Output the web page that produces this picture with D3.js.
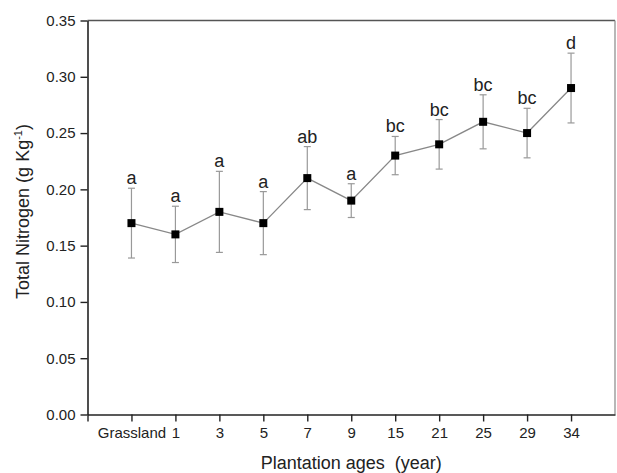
<!DOCTYPE html>
<html lang="en">
<head>
<meta charset="UTF-8">
<title>Total Nitrogen</title>
<script src="https://d3js.org/d3.v7.min.js"></script>
<style>
  body { margin: 0; background: #fff; }
  svg text { font-family: "Liberation Sans", Arial, sans-serif; fill: #222; }
</style>
</head>
<body>
<div id="chart"></div>
<script>
// data
const ages = ["Grassland", "1", "3", "5", "7", "9", "15", "21", "25", "29", "34"];
const nitrogen = [0.17, 0.16, 0.18, 0.17, 0.21, 0.19, 0.23, 0.24, 0.26, 0.25, 0.29];
const stdErr = [0.031, 0.025, 0.036, 0.028, 0.028, 0.015, 0.017, 0.022, 0.024, 0.022, 0.031];
const letters = ["a", "a", "a", "a", "ab", "a", "bc", "bc", "bc", "bc", "d"];
const yTicks = [0, 0.05, 0.10, 0.15, 0.20, 0.25, 0.30, 0.35];

const width = 617, height = 473;
const margin = {left: 87.5, right: 2, top: 20.5, bottom: 58.5};

const svg = d3.select("#chart").append("svg")
  .attr("width", width)
  .attr("height", height);

// categories sit at positions 1..11, axis runs 0..12
const x = d3.scaleLinear()
  .domain([0, ages.length + 1])
  .range([margin.left, width - margin.right]);

const y = d3.scaleLinear()
  .domain([0, 0.35])
  .range([height - margin.bottom, margin.top]);

// frame: top and right lines
svg.append("line")
  .attr("x1", margin.left).attr("x2", width - margin.right)
  .attr("y1", margin.top).attr("y2", margin.top)
  .attr("stroke", "#555").attr("stroke-width", 1.5);
svg.append("line")
  .attr("x1", width - margin.right).attr("x2", width - margin.right)
  .attr("y1", margin.top).attr("y2", height - margin.bottom)
  .attr("stroke", "#888").attr("stroke-width", 1.2);

// x axis
const xAxis = d3.axisBottom(x)
  .tickValues(d3.range(0, ages.length + 1))
  .tickFormat(d => d === 0 ? "" : ages[d - 1])
  .tickSizeInner(7)
  .tickSizeOuter(0)
  .tickPadding(6);

const gx = svg.append("g")
  .attr("transform", `translate(0,${height - margin.bottom})`)
  .call(xAxis);
gx.select(".domain").attr("stroke", "#222").attr("stroke-width", 1.6);
gx.selectAll(".tick line").attr("stroke", "#222").attr("stroke-width", 1.4);
gx.selectAll(".tick text").style("font-size", "15px").attr("fill", "#222");

// y axis
const yAxis = d3.axisLeft(y)
  .tickValues(yTicks)
  .tickFormat(d3.format(".2f"))
  .tickSizeInner(7)
  .tickSizeOuter(0)
  .tickPadding(5);

const gy = svg.append("g")
  .attr("transform", `translate(${margin.left},0)`)
  .call(yAxis);
gy.select(".domain").attr("stroke", "#222").attr("stroke-width", 1.6);
gy.selectAll(".tick line").attr("stroke", "#222").attr("stroke-width", 1.4);
gy.selectAll(".tick text").style("font-size", "15px").attr("fill", "#222");

// axis titles
svg.append("text")
  .attr("x", x(6))
  .attr("y", 469)
  .attr("text-anchor", "middle")
  .style("font-size", "18px")
  .text("Plantation ages\u00a0\u00a0(year)");

const yTitle = svg.append("text")
  .attr("transform", `translate(29,${(margin.top + height - margin.bottom) / 2 - 6}) rotate(-90)`)
  .attr("text-anchor", "middle")
  .style("font-size", "18px");
yTitle.append("tspan").text("Total Nitrogen (g Kg");
yTitle.append("tspan").attr("dy", -7).style("font-size", "11px").text("-1");
yTitle.append("tspan").attr("dy", 7).text(")");

const points = ages.map((a, i) => ({
  pos: i + 1, value: nitrogen[i], err: stdErr[i], letter: letters[i]
}));

// error bars
const bars = svg.append("g")
  .attr("stroke", "#999")
  .attr("stroke-width", 1.2);
bars.selectAll("line.whisker")
  .data(points)
  .join("line")
  .attr("class", "whisker")
  .attr("x1", d => x(d.pos)).attr("x2", d => x(d.pos))
  .attr("y1", d => y(d.value - d.err)).attr("y2", d => y(d.value + d.err));
bars.selectAll("line.capTop")
  .data(points)
  .join("line")
  .attr("class", "capTop")
  .attr("x1", d => x(d.pos) - 3.5).attr("x2", d => x(d.pos) + 3.5)
  .attr("y1", d => y(d.value + d.err)).attr("y2", d => y(d.value + d.err));
bars.selectAll("line.capBottom")
  .data(points)
  .join("line")
  .attr("class", "capBottom")
  .attr("x1", d => x(d.pos) - 3.5).attr("x2", d => x(d.pos) + 3.5)
  .attr("y1", d => y(d.value - d.err)).attr("y2", d => y(d.value - d.err));

// connecting line
svg.append("path")
  .datum(points)
  .attr("fill", "none")
  .attr("stroke", "#888")
  .attr("stroke-width", 1.3)
  .attr("d", d3.line().x(d => x(d.pos)).y(d => y(d.value)));

// square markers
svg.append("g")
  .selectAll("rect")
  .data(points)
  .join("rect")
  .attr("x", d => x(d.pos) - 4)
  .attr("y", d => y(d.value) - 4)
  .attr("width", 8)
  .attr("height", 8)
  .attr("fill", "#000");

// significance letters
svg.append("g")
  .selectAll("text")
  .data(points)
  .join("text")
  .attr("x", d => x(d.pos))
  .attr("y", d => y(d.value + d.err) - 4)
  .attr("text-anchor", "middle")
  .style("font-size", "18px")
  .text(d => d.letter);
</script>
</body>
</html>
